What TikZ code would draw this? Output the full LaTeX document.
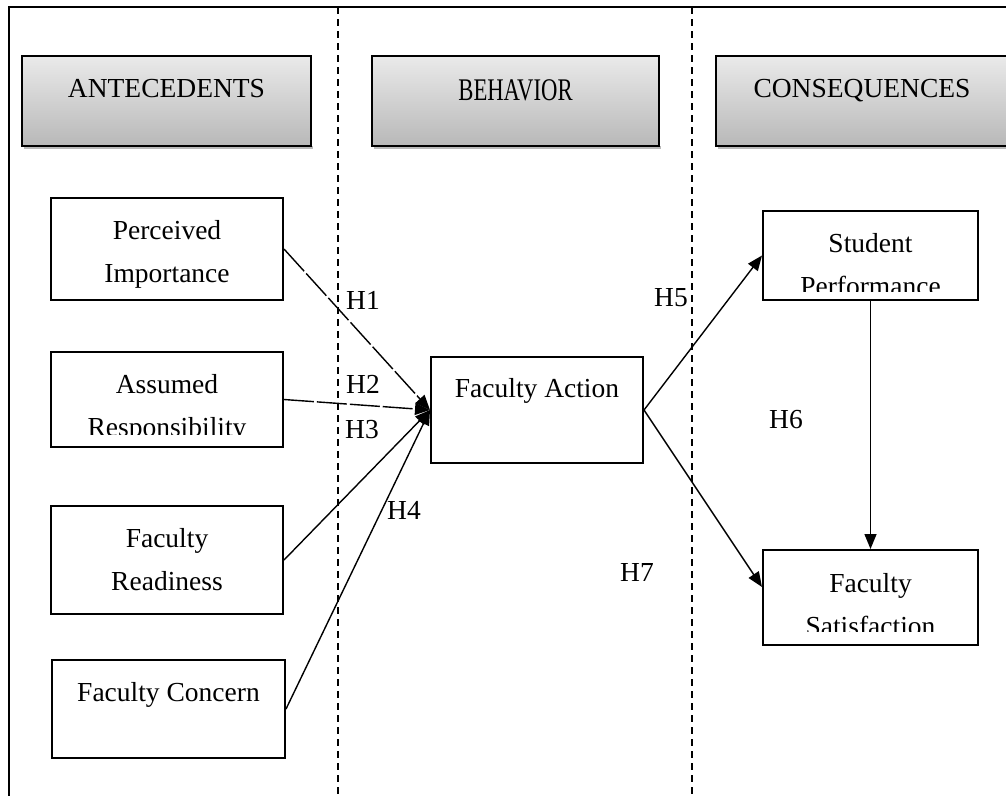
\documentclass[tikz,border=0pt]{standalone}
\usepackage{fontspec}
\setmainfont{Liberation Serif}
\newfontfamily\behfont[FakeStretch=0.72]{Liberation Serif}
\usepackage{tikz}
\usepackage{xcolor}
\usetikzlibrary{arrows.meta}

\definecolor{hdrtop}{RGB}{234,234,234}
\definecolor{hdrbot}{RGB}{184,184,184}
\newcommand{\tnr}{\fontsize{27.5}{43}\selectfont}

\begin{document}
\begin{tikzpicture}[x=1pt,y=-1pt]
    \tikzstyle{box}=[rectangle,draw=black,line width=2pt,inner sep=0pt]
    \tikzstyle{hdr}=[rectangle,draw=black,line width=2pt,inner sep=0pt,top color=hdrtop,bottom color=hdrbot,minimum height=90pt]
    \tikzstyle{txt}=[anchor=north,inner sep=0pt,align=center,font=\tnr]
    \tikzstyle{hyp}=[inner sep=0pt,font=\tnr]
    \tikzstyle{link}=[line width=1.4pt,-{Triangle[length=15pt,width=12pt]}]
    \tikzstyle{broken}=[dash pattern=on 30pt off 3pt]

    \useasboundingbox (0,0) rectangle (1006,796);

    % Frame and column borders
    \draw [line width=1.5pt] (1030,7) -- (9,7) -- (9,796);
    \draw [line width=1.5pt, dash pattern=on 7pt off 5pt] (338,7) -- (338,796);
    \draw [line width=1.5pt, dash pattern=on 7pt off 5pt] (692,7) -- (692,796);

    % Column headers
    \fill [gray!55] (24,146) rectangle (313,149);
    \fill [gray!55] (374,146) rectangle (661,149);
    \fill [gray!55] (718,146) rectangle (1030,149);
    \node [hdr, minimum width=289pt] (HA) at (166.5,101) {};
    \node [hdr, minimum width=287pt] (HB) at (515.5,101) {};
    \node [hdr, minimum width=292pt] (HC) at (862,101) {};
    \node [txt] at ([yshift=-12pt]HA.north) {\rule{0pt}{30pt}ANTECEDENTS};
    \node [txt, font=\behfont\fontsize{31.5}{43}\selectfont] at ([yshift=-15pt]HB.north) {\rule{0pt}{30pt}BEHAVIOR};
    \node [txt] at ([yshift=-12pt]HC.north) {\rule{0pt}{30pt}CONSEQUENCES};

    % Antecedents
    \node [box, minimum width=232pt, minimum height=102pt] (PI) at (167,249) {};
    \node [box, minimum width=232pt, minimum height=95pt] (AR) at (167,399.5) {};
    \node [box, minimum width=232pt, minimum height=108pt] (FR) at (167,560) {};
    \node [box, minimum width=233pt, minimum height=98pt] (FC) at (168.5,709) {};
    \node [txt] at ([yshift=-12pt]PI.north) {\rule{0pt}{30pt}Perceived\\Importance};
    \begin{scope}
        \clip (AR.north west) rectangle ([yshift=14pt]AR.south east);
        \node [txt] at ([yshift=-12pt]AR.north) {\rule{0pt}{30pt}Assumed\\Responsibility};
    \end{scope}
    \node [txt] at ([yshift=-12pt]FR.north) {\rule{0pt}{30pt}Faculty\\Readiness};
    \node [txt] at ([yshift=-12pt]FC.north) {\rule{0pt}{30pt}Faculty Concern};

    % Behavior
    \node [box, minimum width=212pt, minimum height=106pt] (FA) at (537,410) {};
    \node [txt] at ([yshift=-11pt]FA.north) {\rule{0pt}{30pt}Faculty Action};

    % Consequences
    \node [box, minimum width=215pt, minimum height=89pt] (SP) at (870.5,255.5) {};
    \node [box, minimum width=215pt, minimum height=95pt] (FS) at (870.5,597.5) {};
    \begin{scope}
        \clip (SP.north west) rectangle ([yshift=10pt]SP.south east);
        \node [txt] at ([yshift=-12pt]SP.north) {\rule{0pt}{30pt}Student\\Performance};
    \end{scope}
    \begin{scope}
        \clip (FS.north west) rectangle ([yshift=15pt]FS.south east);
        \node [txt] at ([yshift=-13pt]FS.north) {\rule{0pt}{30pt}Faculty\\Satisfaction};
    \end{scope}

    % Hypotheses
    \draw [link, broken] (PI.east) -- (FA.west);
    \draw [link, broken] (AR.east) -- (FA.west);
    \draw [link] (FR.east) -- (FA.west);
    \draw [link] (FC.east) -- (FA.west);
    \draw [link] (FA.east) -- (SP.west);
    \draw [link] (FA.east) -- ([yshift=-38pt]FS.north west);
    \draw [link] (SP.south) -- (FS.north);

    \node [hyp] (H1) at (363,300) {H1};
    \node [hyp] (H2) at (363,384) {H2};
    \node [hyp] (H3) at (362,430) {H3};
    \node [hyp] (H4) at (404,510) {H4};
    \node [hyp] (H5) at (671,298) {H5};
    \node [hyp] (H6) at (786,420) {H6};
    \node [hyp] (H7) at (637,572) {H7};

\end{tikzpicture}
\end{document}
